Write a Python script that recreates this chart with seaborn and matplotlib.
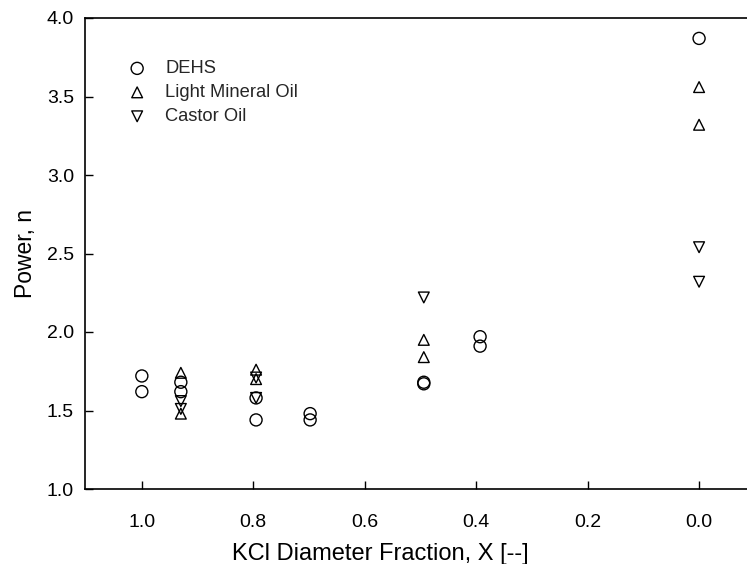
import matplotlib
matplotlib.use("Agg")
import matplotlib.pyplot as plt
import seaborn as sns
import pandas as pd

# Data
dehs_x = [1.0, 1.0, 0.93, 0.93, 0.795, 0.795, 0.698, 0.698, 0.494, 0.494, 0.393, 0.393, 0.0]
dehs_y = [1.72, 1.62, 1.68, 1.62, 1.58, 1.44, 1.48, 1.44, 1.68, 1.67, 1.97, 1.91, 3.87]

lmo_x = [0.93, 0.93, 0.795, 0.795, 0.494, 0.494, 0.0, 0.0]
lmo_y = [1.74, 1.48, 1.76, 1.70, 1.95, 1.84, 3.56, 3.32]

castor_x = [0.93, 0.93, 0.795, 0.795, 0.494, 0.0, 0.0]
castor_y = [1.56, 1.51, 1.71, 1.58, 2.22, 2.54, 2.32]

series = ["DEHS", "Light Mineral Oil", "Castor Oil"]
markers = {"DEHS": "o", "Light Mineral Oil": "^", "Castor Oil": "v"}
sizes = {"DEHS": 75, "Light Mineral Oil": 60, "Castor Oil": 60}

x_ticks = [1.0, 0.8, 0.6, 0.4, 0.2, 0.0]
y_ticks = [1.0, 1.5, 2.0, 2.5, 3.0, 3.5, 4.0]

df = pd.concat([
    pd.DataFrame({"X": dehs_x, "n": dehs_y, "Fluid": "DEHS"}),
    pd.DataFrame({"X": lmo_x, "n": lmo_y, "Fluid": "Light Mineral Oil"}),
    pd.DataFrame({"X": castor_x, "n": castor_y, "Fluid": "Castor Oil"}),
], ignore_index=True)

sns.set_theme(style="ticks")
plt.rcParams["font.family"] = ["Liberation Sans", "DejaVu Sans"]

fig = plt.figure(figsize=(7.47, 5.64), dpi=100)
ax = fig.add_axes([85 / 747, 1 - 489 / 564, 1 - 85 / 747, (489 - 18) / 564])

for name in series:
    sub = df[df["Fluid"] == name]
    sns.scatterplot(data=sub, x="X", y="n", marker=markers[name], s=sizes[name],
                    facecolor="none", edgecolor="black", linewidth=1.0,
                    label=name, ax=ax, zorder=3)

ax.set_xlim(1.102, -0.086)
ax.set_ylim(1.0, 4.0)
ax.set_xticks(x_ticks)
ax.set_yticks(y_ticks)
ax.set_xticklabels([f"{v:.1f}" for v in x_ticks])
ax.set_yticklabels([f"{v:.1f}" for v in y_ticks])
ax.tick_params(axis="both", direction="in", length=6, width=1, colors="black",
               labelsize=14, pad=8)
ax.tick_params(axis="x", pad=18)
for side in ["left", "bottom", "top"]:
    ax.spines[side].set_color("black")
    ax.spines[side].set_linewidth(1.2)
ax.spines["right"].set_visible(False)

ax.set_xlabel("KCl Diameter Fraction, X [--]", fontsize=17, labelpad=6, color="black")
ax.xaxis.set_label_coords((380 - 85) / 662, -0.115)
ax.set_ylabel("Power, n", fontsize=16.5, labelpad=7, color="black")

leg = ax.legend(loc="upper left", bbox_to_anchor=(0.040, 0.926), frameon=False,
                fontsize=13.2, labelspacing=0.38, handletextpad=0.53, borderaxespad=0)
for h in leg.legend_handles:
    h.set_facecolor("none")
    h.set_edgecolor("black")

fig.savefig("out.png", dpi=100)
